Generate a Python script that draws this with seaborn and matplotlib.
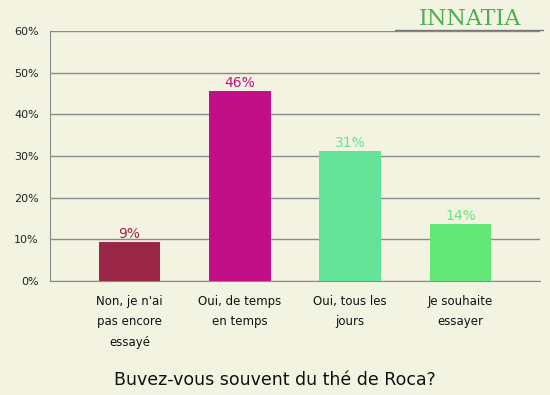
import pandas as pd
import seaborn as sns
import matplotlib.pyplot as plt
from matplotlib.ticker import FixedLocator

categories = ["Non, je n'ai\npas encore\nessayé", "Oui, de temps\nen temps", "Oui, tous les\njours", "Je souhaite\nessayer"]
values = [9.4, 45.6, 31.2, 13.7]
labels = ["9%", "46%", "31%", "14%"]
colors = ["#9b2748", "#c20e87", "#63e397", "#63e878"]

bg = "#f3f3e2"
grid = "#8a8a8a"

df = pd.DataFrame({"cat": categories, "val": values})

sns.set_style("white")
plt.rcParams["font.family"] = ["DejaVu Sans"]

fig = plt.figure(figsize=(5.5, 3.95), dpi=100, facecolor=bg)
ax = fig.add_axes([50 / 550, 1 - 281 / 395, 490 / 550, 250 / 395])
ax.set_facecolor(bg)

sns.barplot(data=df, x="cat", y="val", hue="cat", palette=colors, legend=False,
            width=0.56, saturation=1, linewidth=0, ax=ax, zorder=3)

for i, (v, lab) in enumerate(zip(values, labels)):
    ax.text(i, v + 0.3, lab, ha="center", va="bottom", color=colors[i], fontsize=10, zorder=4)

ax.set_xlim(-0.72, 3.72)
ax.set_ylim(0, 60)
ax.set_yticks(range(0, 61, 10))
ax.set_yticklabels([f"{t}%" for t in range(0, 61, 10)], fontsize=8, color="#222222")
ax.yaxis.grid(True, color=grid, linewidth=1, zorder=0)
ax.tick_params(axis="y", length=5, color=grid, width=1, pad=3)

ax.set_xticks(range(len(categories)))
ax.set_xticklabels(categories, fontsize=8.5, linespacing=1.75, color="#111111")
ax.tick_params(axis="x", length=0, pad=10)
ax.xaxis.set_minor_locator(FixedLocator([0.5, 1.5, 2.5]))
ax.tick_params(axis="x", which="minor", length=5, color=grid, width=1)

for s in ["top", "right"]:
    ax.spines[s].set_visible(False)
ax.spines["left"].set_color(grid)
ax.spines["bottom"].set_color(grid)
ax.set_xlabel("")
ax.set_ylabel("")

fig.text(0.5, 1 - 380 / 395, "Buvez-vous souvent du thé de Roca?", ha="center", va="center",
         fontsize=12.5, color="#111111")

# logo
fig.text(0.855, 1 - 19 / 395, "INNATIA", ha="center", va="center", fontsize=16,
         color="#4caf50", family="DejaVu Serif")
fig.add_artist(plt.Line2D([395 / 550, 543 / 550], [1 - 29.5 / 395, 1 - 29.5 / 395],
                          color="#777777", linewidth=1))

plt.savefig("out.png", dpi=100, facecolor=bg)
